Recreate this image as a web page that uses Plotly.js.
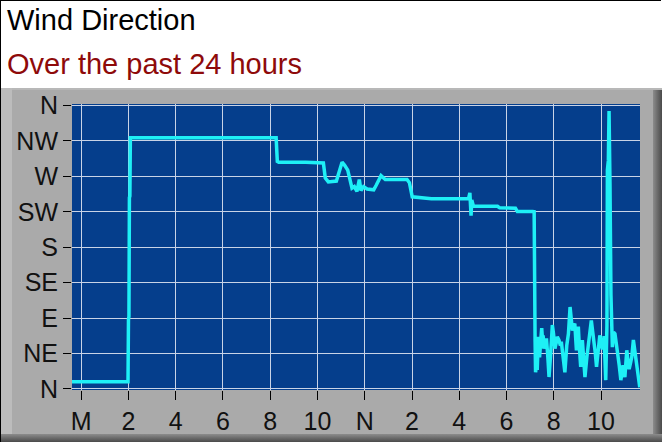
<!DOCTYPE html>
<html>
<head>
<meta charset="utf-8">
<script src="https://cdn.plot.ly/plotly-3.0.1.min.js"></script>
<style>
  html, body { margin: 0; padding: 0; background: #fff; }
  #frame { position: relative; width: 662px; height: 442px; overflow: hidden; background: #fff; }
  /* panel behind the plot: grey with a bevel, like the old desktop widget */
  #panel { position: absolute; left: 0; top: 88px; width: 662px; height: 354px; background: #aaaaaa; }
  #panel .lite { position: absolute; left: 1px; top: 0; width: 11px; height: 100%; background: #bcbcbc; }
  #panel .topl { position: absolute; left: 0; top: 0; width: 100%; height: 2px; background: #b8b8b8; }
  #panel .rsh { position: absolute; right: 0; top: 2px; width: 9px; height: 100%; background: linear-gradient(to right, #8c8c8c, #4a4a4a); }
  #panel .bsh { position: absolute; left: 0; bottom: 0; width: 100%; height: 8px; background: linear-gradient(to bottom, #8c8c8c, #4a4a4a); }
  #edge { position: absolute; left: 0; top: 0; width: 661px; height: 442px; border-top: 1px solid #000; border-left: 1px solid #000; box-sizing: border-box; pointer-events: none; }
  #windChart { position: absolute; left: 0; top: 0; width: 662px; height: 442px; }
</style>
</head>
<body>
<div id="frame">
  <div id="panel"><div class="topl"></div><div class="lite"></div><div class="rsh"></div><div class="bsh"></div></div>
  <div id="windChart"></div>
  <div id="edge"></div>
</div>
<script>
// Hours since midnight (M) through noon (N) and on
const hours = [
  -0.39, 1.98, 2.00, 2.02, 2.04, 2.06, 2.08, 3.5, 5.0, 6.5,
  8.25, 8.30, 8.36, 9.5, 10.25, 10.33, 10.46, 10.80, 11.04, 11.15,
  11.28, 11.46, 11.56, 11.67, 11.72, 11.77, 11.84, 11.95, 12.10, 12.38,
  12.49, 12.69, 12.87, 13.79, 13.89, 14.01, 14.82, 16.39, 16.45, 16.48,
  16.50, 16.53, 16.60, 17.62, 17.71, 18.38, 18.46, 19.11, 19.17, 19.21,
  19.23, 19.27, 19.30, 19.35, 19.40, 19.45, 19.49, 19.53, 19.55, 19.58,
  19.63, 19.69, 19.75, 19.80, 19.87, 19.94, 19.99, 20.05, 20.10, 20.15,
  20.22, 20.28, 20.32, 20.36, 20.42, 20.47, 20.55, 20.62, 20.69, 20.74,
  20.79, 20.84, 20.89, 20.96, 21.00, 21.04, 21.09, 21.14, 21.21, 21.26,
  21.32, 21.40, 21.47, 21.53, 21.59, 21.65, 21.70, 21.76, 21.81, 21.88,
  21.95, 22.00, 22.06, 22.13, 22.20, 22.25, 22.27, 22.31, 22.34, 22.38,
  22.42, 22.48, 22.53, 22.59, 22.64, 22.70, 22.77, 22.84, 22.88, 22.93,
  22.97, 23.01, 23.05, 23.09, 23.14, 23.19, 23.25, 23.30, 23.37, 23.42,
  23.47, 23.53, 23.59, 23.64
];

// Wind direction in degrees (0 = N, 90 = E, 180 = S, 270 = W)
const directionDeg = [
  9, 9, 88, 92, 243, 245, 319, 319, 319, 319,
  319, 289, 288, 288, 287, 268, 263, 264, 288, 284,
  278, 255, 257, 251, 262, 266, 252, 257, 254, 253,
  259, 271, 266, 266, 262, 244, 241.5, 241.5, 249, 236,
  220, 240, 232, 232, 230, 229.6, 225.3, 225.3, 225, 60,
  21, 30, 24, 66, 40, 62, 77, 60, 68, 51,
  58, 64, 40, 15, 45, 81, 70, 51, 58, 66,
  62, 55, 60, 50, 35, 21, 55, 70, 104, 88,
  74, 80, 83, 49, 65, 79, 50, 28, 62, 40,
  15, 40, 58, 70, 87, 72, 62, 45, 28, 50,
  68, 58, 50, 67, 11, 80, 278, 290, 353, 260,
  120, 53, 72, 70, 60, 50, 30, 11, 22, 30,
  20, 15, 32, 49, 35, 25, 33, 40, 62, 50,
  36, 20, 7, 2
];

const hourTicks = [0, 2, 4, 6, 8, 10, 12, 14, 16, 18, 20, 22];
const hourLabels = ['M', '2', '4', '6', '8', '10', 'N', '2', '4', '6', '8', '10'];
const compassTicks = [0, 45, 90, 135, 180, 225, 270, 315, 360];
const compassLabels = ['N', 'NE', 'E', 'SE', 'S', 'SW', 'W', 'NW', 'N'];

const trace = {
  x: hours,
  y: directionDeg,
  mode: 'lines',
  type: 'scatter',
  line: { color: '#1ef0f6', width: 3.5 },
  hoverinfo: 'skip'
};

const tickFont = { family: 'Liberation Sans, Arial, sans-serif', size: 25, color: '#111' };

const layout = {
  width: 662,
  height: 442,
  showlegend: false,
  paper_bgcolor: 'rgba(0,0,0,0)',
  plot_bgcolor: '#053e8c',
  margin: { l: 72, r: 22, t: 104, b: 52 },
  xaxis: {
    range: [-0.39, 23.65],
    tickmode: 'array',
    tickvals: hourTicks,
    ticktext: hourLabels,
    ticks: 'outside',
    ticklen: 9,
    tickcolor: '#000',
    tickwidth: 1,
    tickfont: tickFont,
    showgrid: true,
    gridcolor: '#c9d3e6',
    gridwidth: 1,
    zeroline: false,
    showline: false
  },
  yaxis: {
    range: [-1.5, 362],
    tickmode: 'array',
    tickvals: compassTicks,
    ticktext: compassLabels,
    ticks: 'outside',
    ticklen: 8,
    tickcolor: '#000',
    tickwidth: 1,
    tickfont: tickFont,
    showgrid: true,
    gridcolor: '#c9d3e6',
    gridwidth: 1,
    zeroline: false,
    showline: false
  },
  annotations: [
    {
      text: 'Wind Direction',
      xref: 'paper', yref: 'paper',
      x: -0.118, y: 1.295,
      xanchor: 'left', yanchor: 'middle',
      showarrow: false,
      font: { family: 'Liberation Sans, Arial, sans-serif', size: 29, color: '#000' }
    },
    {
      text: 'Over the past 24 hours',
      xref: 'paper', yref: 'paper',
      x: -0.118, y: 1.14,
      xanchor: 'left', yanchor: 'middle',
      showarrow: false,
      font: { family: 'Liberation Sans, Arial, sans-serif', size: 29, color: '#8e0a0a' }
    }
  ]
};

Plotly.newPlot('windChart', [trace], layout, { displayModeBar: false, staticPlot: true });
</script>
</body>
</html>
